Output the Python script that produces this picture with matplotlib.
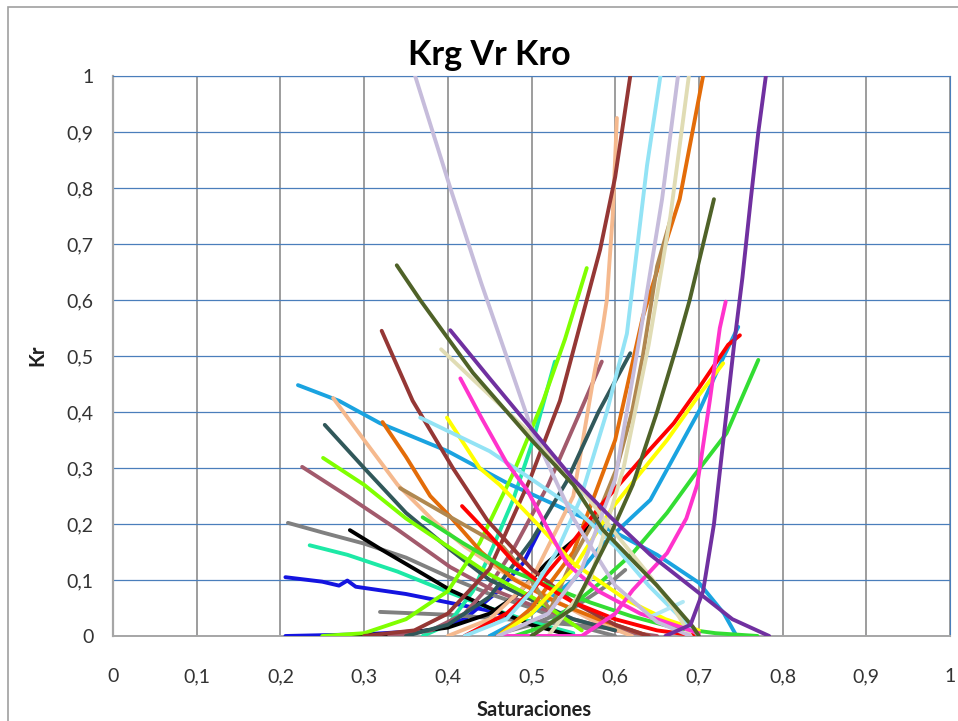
import matplotlib
matplotlib.use("Agg")
import matplotlib.pyplot as plt
from matplotlib.patches import Rectangle

# curves: (saturation, kr)
kro_lavender = [(0.361, 1.0), (0.403, 0.80), (0.44, 0.63), (0.47, 0.50), (0.50, 0.37), (0.55, 0.21), (0.60, 0.09), (0.65, 0.025), (0.69, 0.0)]
krg_lavender = [(0.46, 0.0), (0.52, 0.04), (0.56, 0.12), (0.60, 0.28), (0.63, 0.54), (0.656, 0.78), (0.675, 1.0)]
kro_olive = [(0.339, 0.662), (0.367, 0.60), (0.43, 0.47), (0.50, 0.35), (0.55, 0.27), (0.585, 0.19), (0.65, 0.09), (0.693, 0.016), (0.70, 0.0)]
krg_olive = [(0.50, 0.0), (0.55, 0.05), (0.594, 0.18), (0.621, 0.27), (0.65, 0.40), (0.674, 0.52), (0.689, 0.60), (0.718, 0.78)]
kro_purple = [(0.403, 0.546), (0.45, 0.46), (0.50, 0.37), (0.55, 0.28), (0.594, 0.213), (0.642, 0.145), (0.70, 0.077), (0.74, 0.03), (0.784, 0.0)]
krg_purple = [(0.66, 0.0), (0.69, 0.02), (0.705, 0.08), (0.718, 0.20), (0.73, 0.36), (0.742, 0.52), (0.752, 0.64), (0.762, 0.78), (0.771, 0.90), (0.78, 1.0)]
kro_cream = [(0.392, 0.512), (0.45, 0.43), (0.50, 0.36), (0.55, 0.28), (0.602, 0.18), (0.64, 0.11), (0.67, 0.05), (0.69, 0.0)]
krg_cream = [(0.52, 0.0), (0.57, 0.10), (0.61, 0.30), (0.64, 0.52), (0.666, 0.75), (0.688, 1.0)]
kro_magenta = [(0.415, 0.46), (0.44, 0.39), (0.47, 0.31), (0.495, 0.26), (0.52, 0.19), (0.542, 0.13), (0.58, 0.08), (0.63, 0.04), (0.70, 0.005)]
krg_magenta = [(0.46, 0.0), (0.56, 0.0), (0.60, 0.04), (0.621, 0.082), (0.662, 0.148), (0.685, 0.21), (0.698, 0.27), (0.713, 0.42), (0.725, 0.55), (0.732, 0.597)]
kro_lightcyan = [(0.367, 0.39), (0.45, 0.33), (0.50, 0.28), (0.554, 0.225), (0.60, 0.16), (0.64, 0.09), (0.68, 0.03), (0.70, 0.0)]
krg_lightcyan = [(0.42, 0.0), (0.47, 0.03), (0.50, 0.08), (0.53, 0.15), (0.558, 0.243), (0.59, 0.40), (0.614, 0.54), (0.638, 0.84), (0.654, 1.0)]
short_lightcyan = [(0.642, 0.034), (0.681, 0.061)]
kro_yellow = [(0.399, 0.39), (0.438, 0.30), (0.462, 0.27), (0.507, 0.20), (0.55, 0.13), (0.614, 0.064), (0.66, 0.03), (0.70, 0.01)]
krg_yellow = [(0.46, 0.0), (0.50, 0.04), (0.55, 0.12), (0.597, 0.23), (0.662, 0.35), (0.70, 0.43), (0.729, 0.487)]
kro_skyblue = [(0.221, 0.448), (0.27, 0.42), (0.319, 0.38), (0.40, 0.33), (0.471, 0.273), (0.542, 0.225), (0.60, 0.185), (0.65, 0.145), (0.70, 0.095), (0.73, 0.04), (0.745, 0.0)]
krg_skyblue = [(0.45, 0.0), (0.50, 0.04), (0.55, 0.10), (0.582, 0.159), (0.642, 0.243), (0.701, 0.404), (0.73, 0.50), (0.747, 0.552)]
kro_maroon = [(0.321, 0.545), (0.358, 0.42), (0.406, 0.30), (0.447, 0.207), (0.50, 0.12), (0.55, 0.06), (0.60, 0.02), (0.64, 0.0)]
krg_maroon = [(0.30, 0.0), (0.36, 0.01), (0.40, 0.04), (0.45, 0.12), (0.498, 0.279), (0.534, 0.42), (0.582, 0.69), (0.60, 0.82), (0.618, 1.0)]
kro_peach = [(0.263, 0.425), (0.30, 0.35), (0.34, 0.27), (0.382, 0.207), (0.42, 0.16), (0.47, 0.11), (0.52, 0.07), (0.57, 0.03), (0.62, 0.0)]
krg_peach = [(0.40, 0.0), (0.45, 0.03), (0.50, 0.10), (0.55, 0.25), (0.574, 0.46), (0.585, 0.55), (0.59, 0.60), (0.597, 0.75), (0.602, 0.925)]
kro_orange = [(0.322, 0.382), (0.35, 0.32), (0.379, 0.25), (0.403, 0.213), (0.44, 0.15), (0.48, 0.10), (0.53, 0.06), (0.58, 0.03), (0.64, 0.0)]
krg_orange = [(0.46, 0.0), (0.50, 0.05), (0.55, 0.15), (0.60, 0.35), (0.633, 0.57), (0.66, 0.70), (0.677, 0.78), (0.705, 1.0)]
kro_slate = [(0.253, 0.377), (0.30, 0.30), (0.35, 0.22), (0.403, 0.154), (0.45, 0.10), (0.50, 0.065), (0.55, 0.03), (0.60, 0.01)]
krg_slate = [(0.35, 0.0), (0.40, 0.02), (0.45, 0.07), (0.50, 0.17), (0.542, 0.276), (0.58, 0.40), (0.618, 0.505)]
kro_lime = [(0.251, 0.318), (0.30, 0.27), (0.35, 0.21), (0.40, 0.16), (0.45, 0.11), (0.50, 0.07), (0.522, 0.05), (0.56, 0.01)]
krg_lime = [(0.25, 0.0), (0.30, 0.005), (0.35, 0.03), (0.40, 0.08), (0.438, 0.166), (0.478, 0.29), (0.514, 0.42), (0.54, 0.53), (0.566, 0.657)]
kro_green = [(0.37, 0.212), (0.418, 0.166), (0.47, 0.12), (0.52, 0.09), (0.57, 0.06), (0.62, 0.035), (0.67, 0.015), (0.72, 0.005), (0.77, 0.0)]
krg_green = [(0.48, 0.0), (0.52, 0.02), (0.582, 0.095), (0.621, 0.148), (0.662, 0.22), (0.693, 0.284), (0.733, 0.362), (0.771, 0.493)]
kro_mauve = [(0.226, 0.302), (0.28, 0.25), (0.34, 0.19), (0.403, 0.123), (0.45, 0.085), (0.50, 0.055), (0.55, 0.03), (0.60, 0.01), (0.65, 0.0)]
krg_mauve = [(0.33, 0.0), (0.38, 0.01), (0.42, 0.04), (0.45, 0.09), (0.478, 0.154), (0.52, 0.27), (0.558, 0.40), (0.584, 0.49)]
kro_gray = [(0.209, 0.202), (0.25, 0.185), (0.30, 0.165), (0.35, 0.14), (0.403, 0.104), (0.45, 0.075), (0.50, 0.05), (0.55, 0.02), (0.60, 0.0)]
krg_gray = [(0.45, 0.0), (0.50, 0.02), (0.55, 0.05), (0.59, 0.09), (0.612, 0.118)]
low_gray = [(0.319, 0.043), (0.40, 0.038), (0.47, 0.03), (0.55, 0.02), (0.62, 0.01)]
kro_black = [(0.283, 0.189), (0.32, 0.155), (0.36, 0.12), (0.403, 0.082), (0.45, 0.05), (0.50, 0.02), (0.55, 0.0)]
krg_black = [(0.28, 0.0), (0.35, 0.005), (0.40, 0.015), (0.45, 0.04), (0.48, 0.07), (0.518, 0.13), (0.55, 0.17), (0.58, 0.21)]
kro_aqua = [(0.235, 0.162), (0.28, 0.145), (0.34, 0.115), (0.403, 0.077), (0.45, 0.05), (0.50, 0.025), (0.55, 0.005)]
krg_aqua = [(0.37, 0.0), (0.40, 0.02), (0.43, 0.08), (0.454, 0.159), (0.478, 0.243), (0.502, 0.35), (0.528, 0.49)]
kro_blue = [(0.206, 0.105), (0.25, 0.097), (0.27, 0.09), (0.28, 0.099), (0.29, 0.088), (0.35, 0.075), (0.40, 0.06), (0.45, 0.045), (0.50, 0.025), (0.55, 0.0)]
krg_blue = [(0.206, 0.0), (0.30, 0.003), (0.38, 0.01), (0.42, 0.03), (0.46, 0.08), (0.49, 0.13), (0.512, 0.195)]
kro_tan = [(0.343, 0.264), (0.40, 0.215), (0.466, 0.159), (0.50, 0.10), (0.522, 0.046)]
krg_tan = [(0.522, 0.046), (0.55, 0.14), (0.58, 0.22), (0.602, 0.30), (0.62, 0.40), (0.633, 0.50), (0.65, 0.66), (0.666, 0.743)]
kro_red = [(0.417, 0.232), (0.45, 0.18), (0.48, 0.13), (0.51, 0.095), (0.55, 0.06), (0.60, 0.03), (0.65, 0.01), (0.70, 0.0)]
krg_red = [(0.42, 0.0), (0.47, 0.04), (0.50, 0.08), (0.54, 0.15), (0.581, 0.23), (0.63, 0.314), (0.67, 0.38), (0.701, 0.445), (0.735, 0.52), (0.749, 0.537)]

ticks = [0, 0.1, 0.2, 0.3, 0.4, 0.5, 0.6, 0.7, 0.8, 0.9, 1]
tick_labels = ["0", "0,1", "0,2", "0,3", "0,4", "0,5", "0,6", "0,7", "0,8", "0,9", "1"]

curves = [
    (kro_blue, "#1414e0"), (krg_blue, "#1414e0"),
    (kro_gray, "#808080"), (krg_gray, "#808080"), (low_gray, "#808080"),
    (kro_aqua, "#1de9a6"), (krg_aqua, "#1de9a6"),
    (kro_black, "#000000"), (krg_black, "#000000"),
    (kro_mauve, "#a25a6c"), (krg_mauve, "#a25a6c"),
    (kro_skyblue, "#1aa3e0"), (krg_skyblue, "#1aa3e0"),
    (kro_peach, "#f5b98e"), (krg_peach, "#f5b98e"),
    (kro_slate, "#31585a"), (krg_slate, "#31585a"),
    (kro_lime, "#80ff00"), (krg_lime, "#80ff00"),
    (kro_orange, "#e36c09"), (krg_orange, "#e36c09"),
    (kro_maroon, "#953735"), (krg_maroon, "#953735"),
    (kro_tan, "#b08850"), (krg_tan, "#b08850"),
    (kro_green, "#33dd33"), (krg_green, "#33dd33"),
    (kro_red, "#ff0000"), (krg_red, "#ff0000"),
    (kro_yellow, "#ffff00"), (krg_yellow, "#ffff00"),
    (kro_lightcyan, "#93e3f5"), (krg_lightcyan, "#93e3f5"), (short_lightcyan, "#b0e8f5"),
    (kro_cream, "#e0dcb4"), (krg_cream, "#e0dcb4"),
    (kro_magenta, "#ff33cc"), (krg_magenta, "#ff33cc"),
    (kro_lavender, "#c6bcdb"), (krg_lavender, "#c6bcdb"),
    (kro_olive, "#4f6228"), (krg_olive, "#4f6228"),
    (kro_purple, "#7030a0"), (krg_purple, "#7030a0"),
]

plt.rcParams["font.family"] = ["Lato", "DejaVu Sans"]

fig = plt.figure(figsize=(9.58, 7.21), dpi=100)
ax = fig.add_axes([113 / 958, 1 - 636 / 721, 837 / 958, 560 / 721])

for pts, col in curves:
    xs = [p[0] for p in pts]
    ys = [p[1] for p in pts]
    ax.plot(xs, ys, color=col, lw=2.8, solid_capstyle="round", solid_joinstyle="round", zorder=3)

ax.set_xlim(0, 1)
ax.set_ylim(0, 1)
ax.set_xticks(ticks)
ax.set_xticklabels(tick_labels)
ax.set_yticks(ticks)
ax.set_yticklabels(tick_labels)
ax.tick_params(length=0, labelsize=14, labelcolor="#333333")
ax.tick_params(axis="x", pad=23)
ax.tick_params(axis="y", pad=14)

ax.grid(axis="y", color="#4a7ebb", lw=0.9, zorder=1)
ax.grid(axis="x", color="#8c8c8c", lw=1.2, zorder=1)
ax.set_axisbelow(True)
ax.spines["left"].set_color("#a6a6a6")
ax.spines["left"].set_linewidth(1.6)
ax.spines["bottom"].set_color("#a6a6a6")
ax.spines["bottom"].set_linewidth(1.4)
ax.spines["top"].set_color("#4a7ebb")
ax.spines["right"].set_color("#4a7ebb")

fig.text(0.511, 1 - 55 / 721, "Krg Vr Kro", ha="center", va="center", fontsize=24.5, fontweight="bold")
fig.text(534 / 958, 1 - 710 / 721, "Saturaciones", ha="center", va="center", fontsize=14.5, fontweight="bold", color="#202020")
fig.text(37 / 958, 1 - 355 / 721, "Kr", ha="center", va="center", rotation=90, fontsize=14.5, fontweight="bold", color="#202020")

fig.patches.append(Rectangle((8 / 958, -0.1), 1.2, 1.1 - 7 / 721, transform=fig.transFigure,
                             fill=False, edgecolor="#a0a0a0", lw=1.2))

fig.savefig("out.png", dpi=100)
